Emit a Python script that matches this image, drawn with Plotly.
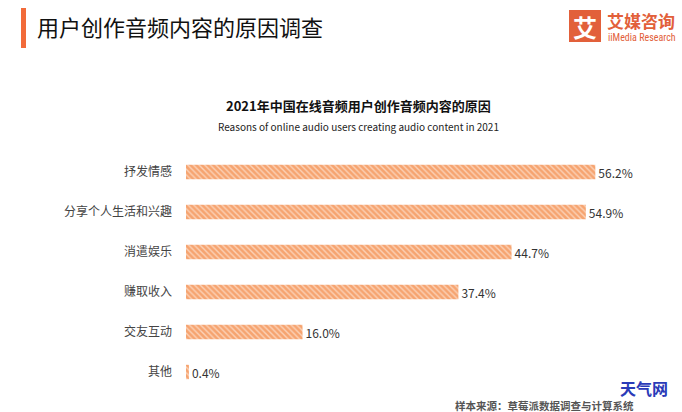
import plotly.graph_objects as go

categories = ["抒发情感", "分享个人生活和兴趣", "消遣娱乐", "赚取收入", "交友互动", "其他"]
values = [56.2, 54.9, 44.7, 37.4, 16.0, 0.4]
value_labels = ["56.2%", "54.9%", "44.7%", "37.4%", "16.0%", "0.4%"]

FONT = "Noto Sans CJK SC"
L, R, T, B = 186, 59, 152, 20
PW, PH = 682 - L - R, 412 - T - B


def px(x):
    return (x - L) / PW


def py(y):
    return (412 - B - y) / PH


fig = go.Figure(go.Bar(
    x=values, y=categories, orientation="h",
    width=0.36,
    marker=dict(color="#f8b690", line=dict(width=0),
                pattern=dict(shape="\\", fgcolor="#ffffff", bgcolor="#f6a470", size=4, solidity=0.35)),
    text=value_labels, textposition="outside", cliponaxis=False, constraintext="none",
    textfont=dict(family=FONT, size=12, color="#333333"),
))

fig.update_layout(
    width=682, height=412,
    margin=dict(l=L, r=R, t=T, b=B),
    paper_bgcolor="#ffffff", plot_bgcolor="#ffffff",
    showlegend=False,
    font=dict(family=FONT),
    xaxis=dict(range=[0, 60], visible=False, fixedrange=True),
    yaxis=dict(autorange="reversed", showgrid=False, zeroline=False, showline=False,
               ticks="", ticklabelstandoff=13,
               tickfont=dict(family=FONT, size=12, color="#444444")),
    shapes=[
        dict(type="rect", xref="paper", yref="paper", x0=px(21), x1=px(26),
             y0=py(48), y1=py(8), fillcolor="#f26b3a", line=dict(width=0)),
        dict(type="rect", xref="paper", yref="paper", x0=px(569), x1=px(601),
             y0=py(42), y1=py(10), fillcolor="#e2603a", line=dict(width=0)),
    ],
    annotations=[
        dict(text="用户创作音频内容的原因调查", xref="paper", yref="paper",
             x=px(35), y=py(26), xanchor="left", yanchor="middle", showarrow=False,
             font=dict(family=FONT, size=22, color="#111111")),
        dict(text="<b>艾</b>", xref="paper", yref="paper",
             x=px(585), y=py(26), xanchor="center", yanchor="middle", showarrow=False,
             font=dict(family=FONT, size=24, color="#ffffff")),
        dict(text="<b>艾媒咨询</b>", xref="paper", yref="paper",
             x=px(605), y=py(20), xanchor="left", yanchor="middle", showarrow=False,
             font=dict(family=FONT, size=17, color="#e2603a")),
        dict(text="iiMedia Research", xref="paper", yref="paper",
             x=px(606), y=py(38), xanchor="left", yanchor="middle", showarrow=False,
             font=dict(family="Liberation Sans Narrow, Roboto Condensed, Roboto", size=10, color="#e2603a")),
        dict(text="<b>2021年中国在线音频用户创作音频内容的原因</b>", xref="paper", yref="paper",
             x=px(358), y=py(105), xanchor="center", yanchor="middle", showarrow=False,
             font=dict(family=FONT, size=13, color="#111111")),
        dict(text="Reasons of online audio users creating audio content in 2021", xref="paper", yref="paper",
             x=px(358), y=py(127), xanchor="center", yanchor="middle", showarrow=False,
             font=dict(family=FONT, size=10, color="#222222")),
        dict(text="<b>样本来源：草莓派数据调查与计算系统</b>", xref="paper", yref="paper",
             x=px(636), y=py(405), xanchor="right", yanchor="middle", showarrow=False,
             font=dict(family=FONT, size=10.5, color="#555555")),
        dict(text="<b>天气网</b>", xref="paper", yref="paper",
             x=px(644), y=py(388), xanchor="center", yanchor="middle", showarrow=False,
             font=dict(family=FONT, size=16, color="#2a3bb8")),
    ],
)

fig.write_html("out.html")
